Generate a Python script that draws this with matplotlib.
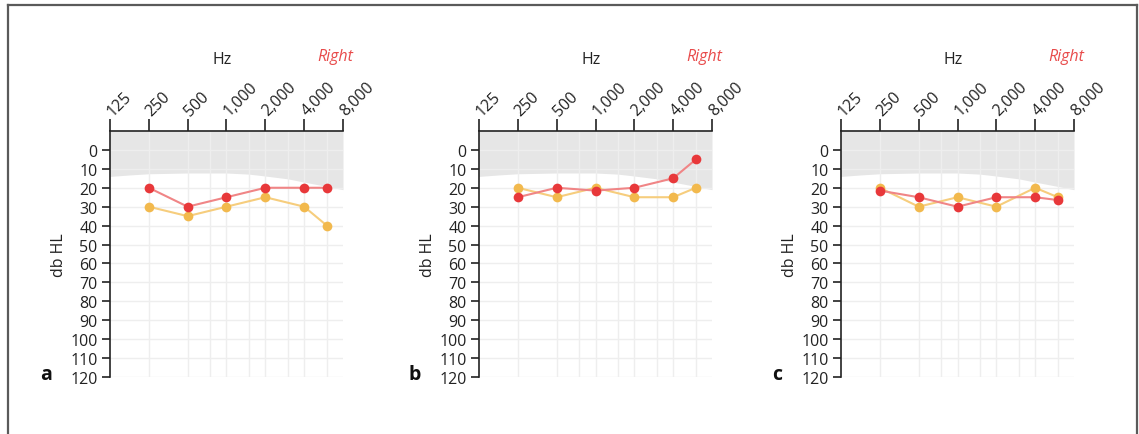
import numpy as np
import matplotlib.pyplot as plt
from matplotlib.lines import Line2D

plt.rcParams['font.family'] = ['Open Sans', 'DejaVu Sans']

# --- audiogram data (dB HL per test frequency) ---
freqs = [250, 500, 1000, 2000, 4000, 6000]
panels = ['a', 'b', 'c']
right_a = [20, 30, 25, 20, 20, 20]
left_a = [30, 35, 30, 25, 30, 40]
right_b = [25, 20, 21.5, 20, 15, 5]
left_b = [20, 25, 20, 25, 25, 20]
right_c = [21.5, 25, 30, 25, 25, 26.5]
left_c = [20, 30, 25, 30, 20, 25]

# normal hearing band (upper edge of the grey area)
band_freqs = [125, 180, 250, 500, 1000, 1500, 2000, 3000, 4000, 6000, 8000]
band_db = [14, 13.2, 12.6, 12.2, 12.2, 12.8, 13.8, 15.3, 17, 19.3, 21]

tick_freqs = [125, 250, 500, 1000, 2000, 4000, 8000]
tick_labels = ['125', '250', '500', '1,000', '2,000', '4,000', '8,000']
minor_freqs = [750, 1500, 3000, 6000]
db_ticks = list(range(0, 130, 10))

right_series = [right_a, right_b, right_c]
left_series = [left_a, left_b, left_c]

RED = '#e8383a'
RED_LINE = '#f08586'
YEL = '#f2b94d'
YEL_LINE = '#f6cd7d'
INK = '#222222'
FS = 11.5
W, H = 1139, 435

fig = plt.figure(figsize=(W / 100, H / 100), dpi=100)

ax_lefts = [110, 479, 841]
ax_w = 233
ax_top, ax_bottom = 132, 378

for i, name in enumerate(panels):
    x0 = ax_lefts[i]
    ax = fig.add_axes([x0 / W, 1 - ax_bottom / H, ax_w / W, (ax_bottom - ax_top) / H])
    ax.set_xscale('log', base=2)
    ax.set_xlim(125, 8000)
    ax.set_ylim(120, -10)

    # grid
    for f in tick_freqs[1:-1] + minor_freqs:
        ax.axvline(f, color='#eeeeee', lw=1, zorder=1)
    for d in db_ticks:
        ax.axhline(d, color='#eeeeee', lw=1, zorder=1)

    ax.fill_between(band_freqs, -10, band_db, color='#e6e6e6', lw=0, zorder=0.5)

    ax.plot(freqs, left_series[i], color=YEL_LINE, lw=1.5, zorder=3)
    ax.plot(freqs, left_series[i], 'o', color=YEL, ms=7, mec='none', zorder=4)
    ax.plot(freqs, right_series[i], color=RED_LINE, lw=1.5, zorder=5)
    ax.plot(freqs, right_series[i], 'o', color=RED, ms=7, mec='none', zorder=6)

    ax.xaxis.set_ticks_position('top')
    ax.set_xticks(tick_freqs)
    ax.set_xticks([], minor=True)
    ax.set_xticklabels(tick_labels, rotation=45, ha='left', va='center',
                       rotation_mode='anchor', fontsize=FS, color=INK)
    ax.tick_params(axis='x', length=9, width=1.2, pad=4, color=INK)
    ax.set_yticks(db_ticks)
    ax.set_yticklabels([str(d) for d in db_ticks], fontsize=FS, color=INK)
    ax.tick_params(axis='y', length=6, width=1.2, pad=3, color=INK)

    for s in ['right', 'bottom']:
        ax.spines[s].set_visible(False)
    for s in ['top', 'left']:
        ax.spines[s].set_linewidth(1.2)
        ax.spines[s].set_color(INK)
    ax.spines['left'].set_bounds(120, -10)

    ax.set_ylabel('db HL', fontsize=FS, labelpad=2, color=INK)

    # titles above the frequency axis
    fig.text((x0 + 112) / W, 1 - 60 / H, 'Hz', ha='center', va='center',
             fontsize=FS, color=INK)
    fig.text((x0 + 243) / W, 1 - 57 / H, 'Right', ha='right', va='center',
             fontsize=FS, style='italic', color='#e84a4a')
    fig.text((x0 - 64) / W, 1 - 375 / H, name, ha='center', va='center',
             fontsize=14, fontweight='bold', color='#111111')

# outer frame (open at the bottom)
frame = dict(color='#5a5a5a', lw=1.6, transform=fig.transFigure)
fig.add_artist(Line2D([7.5 / W, 7.5 / W], [0, 1 - 6 / H], **frame))
fig.add_artist(Line2D([7.5 / W, 1137 / W], [1 - 6 / H, 1 - 6 / H], **frame))
fig.add_artist(Line2D([1137 / W, 1137 / W], [0, 1 - 6 / H], **frame))

fig.savefig('out.png', dpi=100, facecolor='white')
